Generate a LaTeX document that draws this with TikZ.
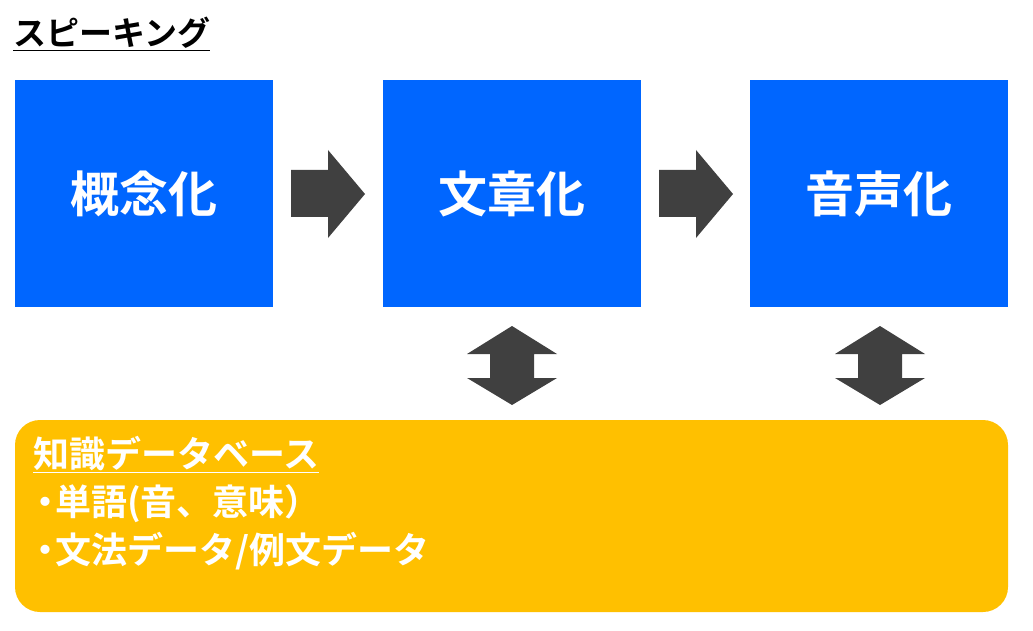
\documentclass[tikz,border=0pt]{standalone}
\usepackage{fontspec}
\newfontfamily\jp{Noto Sans CJK JP Bold}
\definecolor{bblue}{HTML}{0066FF}
\definecolor{byel}{HTML}{FFC000}
\definecolor{agray}{HTML}{404040}
\begin{document}
\begin{tikzpicture}[x=1pt,y=-1pt,
  stage/.style={fill=bblue,draw=none,minimum width=258pt,minimum height=227pt,text=white,font=\jp\fontsize{49}{52}\selectfont},
  arr/.style={fill=agray,draw=none}]
\useasboundingbox (0,0) rectangle (1033,631);
\node[anchor=west,font=\jp\fontsize{33}{36}\selectfont,inner sep=0] (title) at (13,34) {\underline{スピーキング}};
\node[stage] (a) at (144,193.5) {概念化};
\node[stage] (b) at (512,193.5) {文章化};
\node[stage] (c) at (879,193.5) {音声化};
\foreach \x in {291,659}{
  \fill[arr] (\x,170) -- (\x+37,170) -- (\x+37,150) -- (\x+74,194) -- (\x+37,238) -- (\x+37,217) -- (\x,217) -- cycle;}
\foreach \x in {512,880}{
  \fill[arr] (\x,326) -- (\x+45,354) -- (\x+22,354) -- (\x+22,378) -- (\x+45,378) -- (\x,405) -- (\x-45,378) -- (\x-22,378) -- (\x-22,354) -- (\x-45,354) -- cycle;}
\node[fill=byel,rounded corners=25pt,minimum width=993pt,minimum height=192pt] (db) at (511.5,516) {};
\node[anchor=north west,text=white,font=\jp\fontsize{36}{48}\selectfont,align=left,inner sep=0] (dbt) at (33,436) {\underline{知識データベース}\\\hspace*{-6pt}・\hspace{-8pt}単語(音、意味）\\\hspace*{-6pt}・\hspace{-8pt}文法データ/例文データ};
\end{tikzpicture}
\end{document}
